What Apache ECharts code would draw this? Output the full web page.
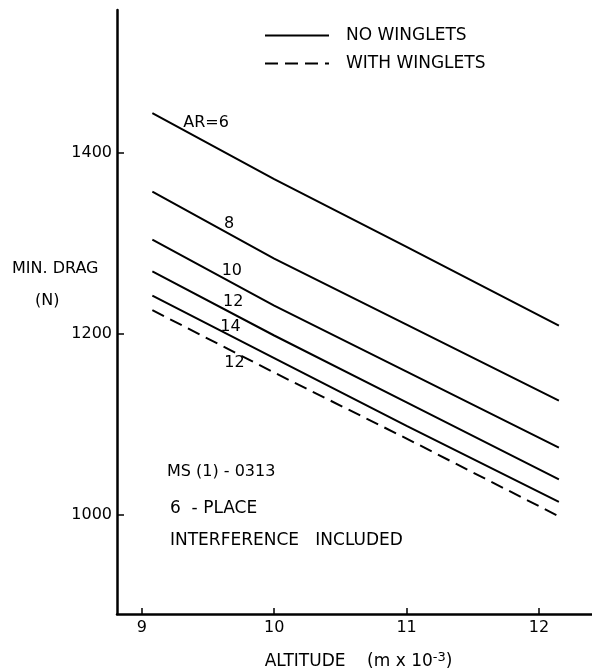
<!DOCTYPE html>
<html><head><meta charset="utf-8">
<script src="https://cdn.jsdelivr.net/npm/echarts@6/dist/echarts.min.js"></script>
<style>html,body{margin:0;padding:0;background:#fff}#c{width:592px;height:668px}</style>
</head><body><div id="c"></div>
<script>
// Altitude (m x 10^-3) sample positions
const altitudes = [9.08, 10, 11, 12.15];
// Minimum drag (N), no winglets, by aspect ratio
const ar6 = [1444, 1371, 1296, 1209];
const ar8 = [1357, 1283, 1210, 1126];
const ar10 = [1304, 1231, 1158, 1074];
const ar12 = [1269, 1198, 1124, 1039];
const ar14 = [1242, 1173, 1098, 1014];
// Minimum drag (N), with winglets, AR = 12
const ar12Winglets = [1226, 1157, 1084, 998];
const xTicks = [9, 10, 11, 12];
const yTicks = [1000, 1200, 1400];
const curveNames = ['AR=6', '8', '10', '12', '14', '12'];

const FONT = 'DejaVu Sans';
const chart = echarts.init(document.getElementById('c'), null, {renderer: 'canvas'});

function mk(name, vals, labelText, at, dashed) {
  return {
    type: 'line', name: name,
    data: altitudes.map((a, i) => [a, vals[i]]),
    symbol: 'none', silent: true, animation: false,
    lineStyle: {color: '#000', width: 2, type: dashed ? [13, 7] : 'solid'},
    itemStyle: {color: '#000'},
    markPoint: {
      symbol: 'circle', symbolSize: 0, animation: false, silent: true,
      data: [{coord: at, value: labelText}],
      label: {show: true, position: 'inside', formatter: labelText, color: '#000', fontSize: 16, fontFamily: FONT}
    }
  };
}

const option = {
  backgroundColor: '#fff',
  animation: false,
  grid: {left: 117, right: 0, top: 10, bottom: 54, outerBoundsMode: 'none', containLabel: false},
  legend: {
    data: ['NO WINGLETS', 'WITH WINGLETS'],
    orient: 'vertical', left: 264, top: 27, padding: 0,
    itemWidth: 64, itemHeight: 16, itemGap: 11,
    itemStyle: {opacity: 0},
    textStyle: {fontSize: 17, fontFamily: FONT, color: '#000', padding: [0, 0, 0, 12]},
    selectedMode: false
  },
  xAxis: {
    type: 'value', min: 8.813, max: 12.40,
    axisLine: {show: true, lineStyle: {color: '#000', width: 2.5}},
    axisTick: {show: true, inside: true, length: 6, lineStyle: {color: '#000', width: 1.5}, customValues: xTicks},
    axisLabel: {color: '#000', fontSize: 16, fontFamily: FONT, margin: 6, customValues: xTicks, formatter: v => String(v)},
    splitLine: {show: false},
    name: 'ALTITUDE    (m x 10{sup|-3})',
    nameLocation: 'middle', nameGap: 37,
    nameTextStyle: {color: '#000', fontSize: 17, fontFamily: FONT, padding: [0, 0, 0, 8],
      rich: {sup: {fontSize: 13, fontFamily: FONT, color: '#000', verticalAlign: 'top', padding: [0, 0, 9, 0]}}}
  },
  yAxis: {
    type: 'value', min: 890, max: 1558,
    axisLine: {show: true, lineStyle: {color: '#000', width: 2.5}},
    axisTick: {show: true, inside: true, length: 7, lineStyle: {color: '#000', width: 1.5}, customValues: yTicks},
    axisLabel: {color: '#000', fontSize: 16, fontFamily: FONT, margin: 5, customValues: yTicks, formatter: v => String(v)},
    splitLine: {show: false}
  },
  graphic: [
    {type: 'text', left: 12, top: 261, style: {text: 'MIN. DRAG', font: '16px "DejaVu Sans"', fill: '#000'}},
    {type: 'text', left: 35, top: 293, style: {text: '(N)', font: '16px "DejaVu Sans"', fill: '#000'}},
    {type: 'text', left: 167, top: 464, style: {text: 'MS (1) - 0313', font: '16px "DejaVu Sans"', fill: '#000'}},
    {type: 'text', left: 170, top: 500, style: {text: '6  - PLACE', font: '17px "DejaVu Sans"', fill: '#000'}},
    {type: 'text', left: 170, top: 532, style: {text: 'INTERFERENCE   INCLUDED', font: '17px "DejaVu Sans"', fill: '#000'}}
  ],
  series: [
    mk('NO WINGLETS', ar6, curveNames[0], [9.486, 1433], false),
    mk('NO WINGLETS', ar8, curveNames[1], [9.66, 1322], false),
    mk('NO WINGLETS', ar10, curveNames[2], [9.68, 1269], false),
    mk('NO WINGLETS', ar12, curveNames[3], [9.69, 1235], false),
    mk('NO WINGLETS', ar14, curveNames[4], [9.67, 1208], false),
    mk('WITH WINGLETS', ar12Winglets, curveNames[5], [9.70, 1168], true)
  ]
};
chart.setOption(option);
</script>
</body></html>
